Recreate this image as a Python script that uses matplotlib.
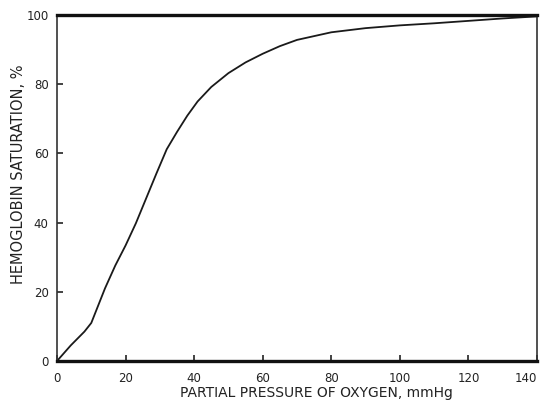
import matplotlib
matplotlib.use('Agg')
import matplotlib.pyplot as plt

# oxygen-haemoglobin dissociation curve
po2 = [0, 4, 8, 10, 12, 14, 17, 20, 23, 26, 29, 32, 35, 38, 41, 45, 50,
       55, 60, 65, 70, 80, 90, 100, 110, 120, 130, 140]
saturation = [0, 4.5, 8.5, 11, 16, 21, 27.6, 33.4, 39.8, 47, 54.2, 61.2,
              66.2, 70.9, 75, 79.2, 83.2, 86.3, 88.8, 91, 92.8, 95, 96.2,
              97, 97.6, 98.3, 99, 99.6]

x_ticks = [0, 20, 40, 60, 80, 100, 120, 140]
y_ticks = [0, 20, 40, 60, 80, 100]

INK = '#222222'

fig = plt.figure(figsize=(5.45, 4.03), dpi=100)
ax = fig.add_axes([0.1046, 0.1042, 0.8807, 0.8586])

ax.plot(po2, saturation, color='#1a1a1a', lw=1.3)

ax.set_xlim(0, 140)
ax.set_ylim(0, 100)
ax.set_xticks(x_ticks)
ax.set_yticks(y_ticks)
ax.tick_params(direction='in', length=4, width=1.2, color=INK,
               labelsize=8.5, labelcolor=INK)
ax.tick_params(axis='x', pad=8)
ax.tick_params(axis='y', pad=6)
# last x label sits against the figure edge, keep it inside
ax.get_xticklabels()[-1].set_horizontalalignment('right')

for side in ('top', 'bottom'):
    ax.spines[side].set_linewidth(2.4)
    ax.spines[side].set_color('#111')
for side in ('left', 'right'):
    ax.spines[side].set_linewidth(1.2)
    ax.spines[side].set_color('#333')

ax.set_xlabel('PARTIAL PRESSURE OF OXYGEN, mmHg', fontsize=10,
              color=INK, va='center')
ax.xaxis.set_label_coords(0.54, -0.093)
ax.set_ylabel('HEMOGLOBIN SATURATION, %', fontsize=10.5,
              color=INK, va='center')
ax.yaxis.set_label_coords(-0.08, 0.54)

fig.savefig('out.png', dpi=100)
